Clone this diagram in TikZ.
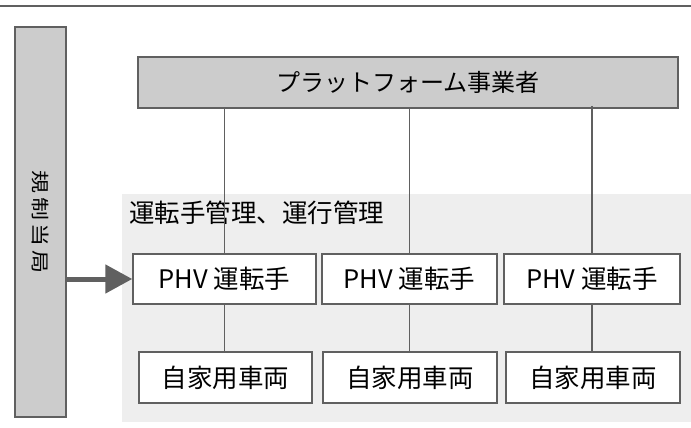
\documentclass[tikz,border=0pt]{standalone}
\usepackage{fontspec}
\setmainfont{Noto Sans CJK JP}
\usetikzlibrary{arrows.meta}
\definecolor{edgegray}{HTML}{606060}
\definecolor{boxgray}{HTML}{CCCCCC}
\definecolor{bggray}{HTML}{EEEEEE}
\tikzset{
  box/.style={draw=edgegray, line width=1.5pt, fill=white, rectangle, inner sep=0pt, font=\fontsize{25.5}{28}\selectfont},
  graybox/.style={box, fill=boxgray},
  conn/.style={draw=edgegray, line width=1.5pt},
}
\begin{document}
\begin{tikzpicture}[x=1pt,y=-1pt]
\useasboundingbox (0,0) rectangle (691,428);
% top rule
\draw[edgegray, line width=2pt] (0,6) -- (691,6);
% background region
\fill[bggray] (122,194) rectangle (691,422);
\node[anchor=west, inner sep=0pt, font=\fontsize{25.5}{28}\selectfont] (lbl) at (129,213) {運転手管理、運行管理};
% left authority box
\node[graybox, minimum width=51pt, minimum height=390pt] (auth) at (40.5,222) {};
\node[rotate=-90, inner sep=0pt, font=\fontsize{23}{24}\selectfont\addfontfeature{LetterSpace=15}] (authtxt) at (auth.center) {\scalebox{1}[0.8]{規制当局}};
% platform
\node[graybox, minimum width=540pt, minimum height=51pt, font=\fontsize{24}{28}\selectfont] (plat) at (408,82.5) {プラットフォーム事業者};
% drivers
\node[box, minimum width=183pt, minimum height=50pt] (phv1) at (224.5,279) {PHV 運転手};
\node[box, minimum width=175pt, minimum height=50pt] (phv2) at (409.5,279) {PHV 運転手};
\node[box, minimum width=176pt, minimum height=50pt] (phv3) at (592,279) {PHV 運転手};
% vehicles
\node[box, minimum width=173pt, minimum height=51pt] (veh1) at (225.5,377.5) {自家用車両};
\node[box, minimum width=174pt, minimum height=51pt] (veh2) at (410,377.5) {自家用車両};
\node[box, minimum width=174pt, minimum height=51pt] (veh3) at (593,377.5) {自家用車両};
% connectors
\draw[conn] (plat.south -| phv1.north) -- (phv1.north);
\draw[conn] (plat.south -| phv2.north) -- (phv2.north);
\draw[conn] ([yshift=3pt]plat.south -| phv3.north) -- (phv3.north);
\draw[conn] (phv1.south) -- (veh1.north -| phv1.south);
\draw[conn] (phv2.south) -- (veh2.north -| phv2.south);
\draw[conn] (phv3.south) -- (veh3.north -| phv3.south);
% arrow
\draw[edgegray, line width=5pt, -{Triangle[length=27pt,width=28pt]}] (auth.east |- phv1.west) -- (phv1.west);
\end{tikzpicture}
\end{document}
